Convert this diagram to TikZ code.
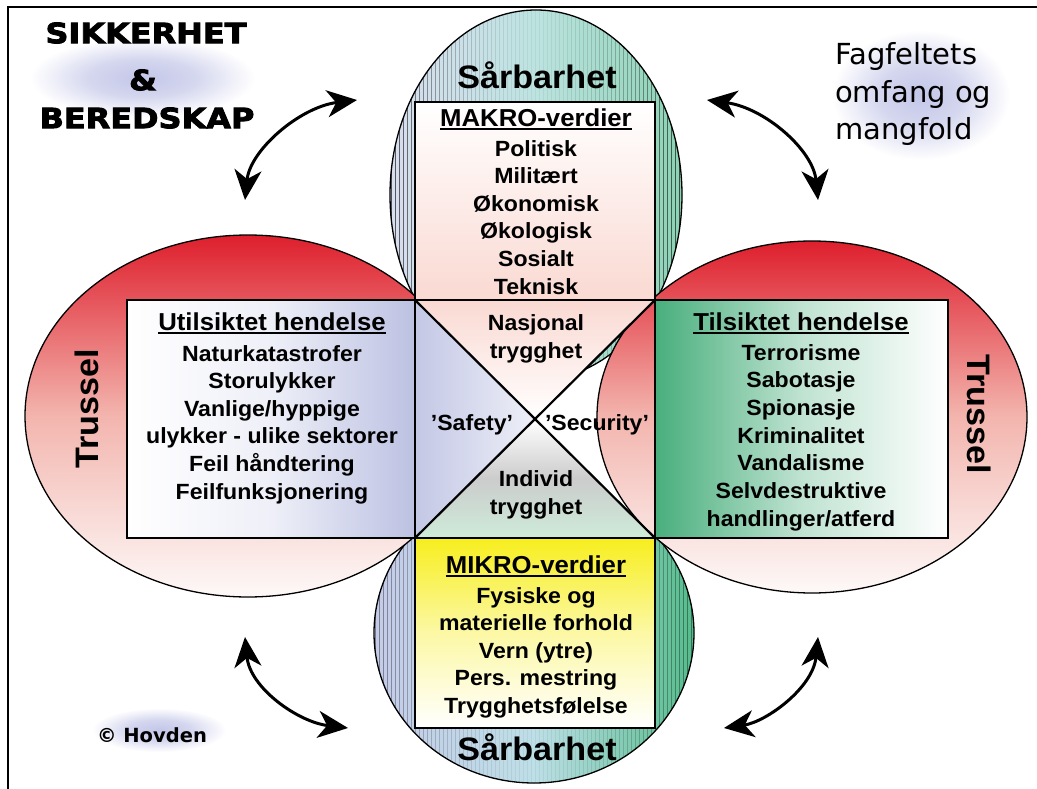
\documentclass[tikz,border=0pt]{standalone}
\usepackage{fontspec}
\usetikzlibrary{arrows.meta}
\setmainfont{Liberation Sans}[FakeStretch=1.05]
\newfontfamily\titlefont{DejaVu Sans}[FakeStretch=1.14, FakeBold=3]
\newfontfamily\notefont{DejaVu Sans}

\definecolor{color_threat_red}{HTML}{DE1F2D}
\definecolor{color_threat_mid}{HTML}{F3B5AE}
\definecolor{color_threat_low}{HTML}{FDF9F8}
\definecolor{color_macro_left}{HTML}{D8DEEE}
\definecolor{color_macro_mid}{HTML}{BCE3E0}
\definecolor{color_macro_right}{HTML}{8CD2B4}
\definecolor{color_micro_left}{HTML}{C4CBE8}
\definecolor{color_micro_mid}{HTML}{BDDFE6}
\definecolor{color_micro_right}{HTML}{55BC8C}
\definecolor{color_macro_pink}{HTML}{FAD9D2}
\definecolor{color_safety}{HTML}{BCC1E2}
\definecolor{color_security}{HTML}{48AE7C}
\definecolor{color_micro_yellow}{HTML}{F7EE1E}
\definecolor{color_individ}{HTML}{CDEBD9}
\definecolor{color_glow}{HTML}{C3C6E8}

\pgfdeclareradialshading{glowshade}{\pgfpoint{0bp}{0bp}}{color(0bp)=(color_glow); color(12bp)=(color_glow!70!white); color(25bp)=(white); color(50bp)=(white)}

% underlined box titles
\newcommand\hdul[1]{\setbox0\hbox{#1}\rlap{\rule[-3.4pt]{\wd0}{1.8pt}}\box0}

\tikzset{
  frameline/.style={line width=1.6pt},
  bubble/.style={draw=black, line width=1.3pt},
  valuebox/.style={draw=black, line width=2.6pt},
  crossline/.style={line width=2.2pt},
  listitem/.style={font=\fontsize{22}{26}\selectfont\bfseries, inner sep=0pt, text height=16pt, text depth=0pt},
  listhead/.style={listitem, font=\fontsize{24.5}{28}\selectfont\bfseries, text height=17.5pt},
  bigword/.style={listitem, font=\fontsize{32.5}{36}\selectfont\bfseries, text height=23.5pt},
  titleword/.style={font=\titlefont\bfseries\fontsize{28}{30}\selectfont, inner sep=0pt, text height=20.4pt, text depth=0pt},
  scopeword/.style={font=\notefont\fontsize{29}{32}\selectfont, inner sep=0pt, anchor=base west},
  glow/.style={shading=glowshade},
  swing/.style={line width=3pt, arrows={Stealth[length=30pt,width=27pt,inset=9pt]-Stealth[length=30pt,width=27pt,inset=9pt]}},
}

\begin{document}
\begin{tikzpicture}[x=1pt,y=-1pt]
    \useasboundingbox (0,0) rectangle (1037,789);
    \fill[white] (0,0) rectangle (1037,789);
    % soft backgrounds behind the corner texts
    \shade[glow] (30,38) rectangle (255,118);
    \shade[glow] (832,30) rectangle (1010,160);
    \shade[glow] (92,708) rectangle (226,752);
    \draw[frameline] (8,789) -- (8,7) -- (1037,7);

    % vulnerability bubbles (top and bottom)
    \fill[left color=color_macro_left, right color=color_macro_right, middle color=color_macro_mid] (536,195) ellipse [x radius=146, y radius=185];
    \begin{scope}
        \clip (536,195) ellipse [x radius=146, y radius=185];
        \foreach \x in {391,395,...,683}
            {\pgfmathsetmacro\stripeop{0.05+0.6*((\x-536)/146)*((\x-536)/146)}
             \draw[black, opacity=\stripeop, line width=0.6pt] (\x,0) -- (\x,400);}
    \end{scope}
    \draw[bubble] (536,195) ellipse [x radius=146, y radius=185];
    \fill[left color=color_micro_left, right color=color_micro_right, middle color=color_micro_mid] (534,633) ellipse [x radius=160, y radius=150];
    \begin{scope}
        \clip (534,633) ellipse [x radius=160, y radius=150];
        \foreach \x in {375,379,...,695}
            {\pgfmathsetmacro\stripeop{0.05+0.35*((\x-534)/160)*((\x-534)/160)}
             \draw[black, opacity=\stripeop, line width=0.6pt] (\x,480) -- (\x,789);}
    \end{scope}
    \draw[bubble] (534,633) ellipse [x radius=160, y radius=150];
    % threat bubbles (left and right)
    \draw[bubble, top color=color_threat_red, bottom color=color_threat_low, middle color=color_threat_mid] (248,416) ellipse [x radius=223, y radius=181];
    \draw[bubble, top color=color_threat_red, bottom color=color_threat_low, middle color=color_threat_mid] (812,417) ellipse [x radius=215, y radius=176];

    % corners of the centre square
    \coordinate (sq-nw) at (415,300);
    \coordinate (sq-ne) at (655,300);
    \coordinate (sq-sw) at (415,538);
    \coordinate (sq-se) at (655,538);
    \coordinate (sq-c) at (535,419);
    \fill[top color=color_macro_pink, bottom color=white] (sq-nw) -- (sq-ne) -- (sq-c) -- cycle;
    \fill[left color=color_safety!90, right color=color_safety!25] (sq-nw) -- (sq-c) -- (sq-sw) -- cycle;
    \fill[top color=white, bottom color=color_individ, middle color=black!20] (sq-sw) -- (sq-c) -- (sq-se) -- cycle;

    % value boxes
    \draw[valuebox, top color=white, bottom color=color_macro_pink] (415,102) rectangle (sq-ne);
    \draw[valuebox, left color=white, right color=color_safety, middle color=color_safety!25] (127,300) rectangle (sq-sw);
    \draw[valuebox, left color=color_security, right color=white, middle color=color_security!35] (sq-ne) rectangle (948,538);
    \draw[valuebox, top color=color_micro_yellow, bottom color=white, middle color=color_micro_yellow!40] (sq-sw) rectangle (655,728);
    \draw[valuebox] (sq-nw) rectangle (sq-se);
    \draw[crossline] (sq-nw) -- (sq-se);
    \draw[crossline] (sq-ne) -- (sq-sw);

    % titles
    \node[titleword] (title-1) at (146,33) {SIKKERHET};
    \node[titleword] (title-2) at (143,80) {\&};
    \node[titleword] (title-3) at (147,118) {BEREDSKAP};
    \foreach \t [count=\i] in {Fagfeltets, omfang og, mangfold}
        \node[scopeword] (scope-\i) at (835,27.5+37.5*\i) {\t};
    \node[font=\notefont\bfseries\fontsize{19.5}{22}\selectfont, inner sep=0pt] (hovden) at (152,735) {© Hovden};

    \node[bigword] (vuln-top) at (537,77) {Sårbarhet};
    \node[bigword] (vuln-bottom) at (537,749) {Sårbarhet};
    \node[bigword, rotate=90] (threat-left) at (87,409) {Trussel};
    \node[bigword, rotate=-90] (threat-right) at (979,414) {Trussel};

    % box contents
    \node[listhead] (makro-head) at (536,118) {\hdul{MAKRO-verdier}};
    \foreach \t [count=\i] in {Politisk, Militært, Økonomisk, Økologisk, Sosialt, Teknisk}
        \node[listitem] (makro-\i) at (536,120.5+27.6*\i) {\t};
    \node[listhead] (accident-head) at (272,322) {\hdul{Utilsiktet hendelse}};
    \foreach \t [count=\i] in {Naturkatastrofer, Storulykker, Vanlige/hyppige, ulykker - ulike sektorer, Feil håndtering, Feilfunksjonering}
        \node[listitem] (accident-\i) at (272,325.4+27.6*\i) {\t};
    \node[listhead] (intent-head) at (801,322) {\hdul{Tilsiktet hendelse}};
    \foreach \t [count=\i] in {Terrorisme, Sabotasje, Spionasje, Kriminalitet, Vandalisme, Selvdestruktive, handlinger/atferd}
        \node[listitem] (intent-\i) at (801,324.3+27.7*\i) {\t};
    \node[listhead] (mikro-head) at (536,565) {\hdul{MIKRO-verdier}};
    \foreach \t [count=\i] in {Fysiske og, materielle forhold, Vern (ytre), Pers. mestring, Trygghetsfølelse}
        \node[listitem] (mikro-\i) at (536,567.5+27.5*\i) {\t};

    % centre square
    \node[listitem] (national-1) at (536,322) {Nasjonal};
    \node[listitem] (national-2) at (536,350) {trygghet};
    \node[listitem] (safety) at (472,422) {'Safety'};
    \node[listitem] (security) at (597,422) {'Security'};
    \node[listitem] (individ-1) at (536,478) {Individ};
    \node[listitem] (individ-2) at (536,506) {trygghet};

    % double arrows between the corners
    \coordinate (tl-low) at (245,200);
    \coordinate (tl-high) at (357,100);
    \coordinate (tr-high) at (707,100);
    \coordinate (tr-low) at (818,200);
    \coordinate (bl-high) at (245,637);
    \coordinate (bl-low) at (348,728);
    \coordinate (br-high) at (818,637);
    \coordinate (br-low) at (724,728);
    \draw[swing] (tl-low) .. controls (250,150) and (300,107) .. (tl-high);
    \draw[swing] (tr-high) .. controls (765,108) and (813,150) .. (tr-low);
    \draw[swing] (bl-high) .. controls (250,688) and (298,722) .. (bl-low);
    \draw[swing] (br-high) .. controls (813,688) and (766,722) .. (br-low);
\end{tikzpicture}
\end{document}
